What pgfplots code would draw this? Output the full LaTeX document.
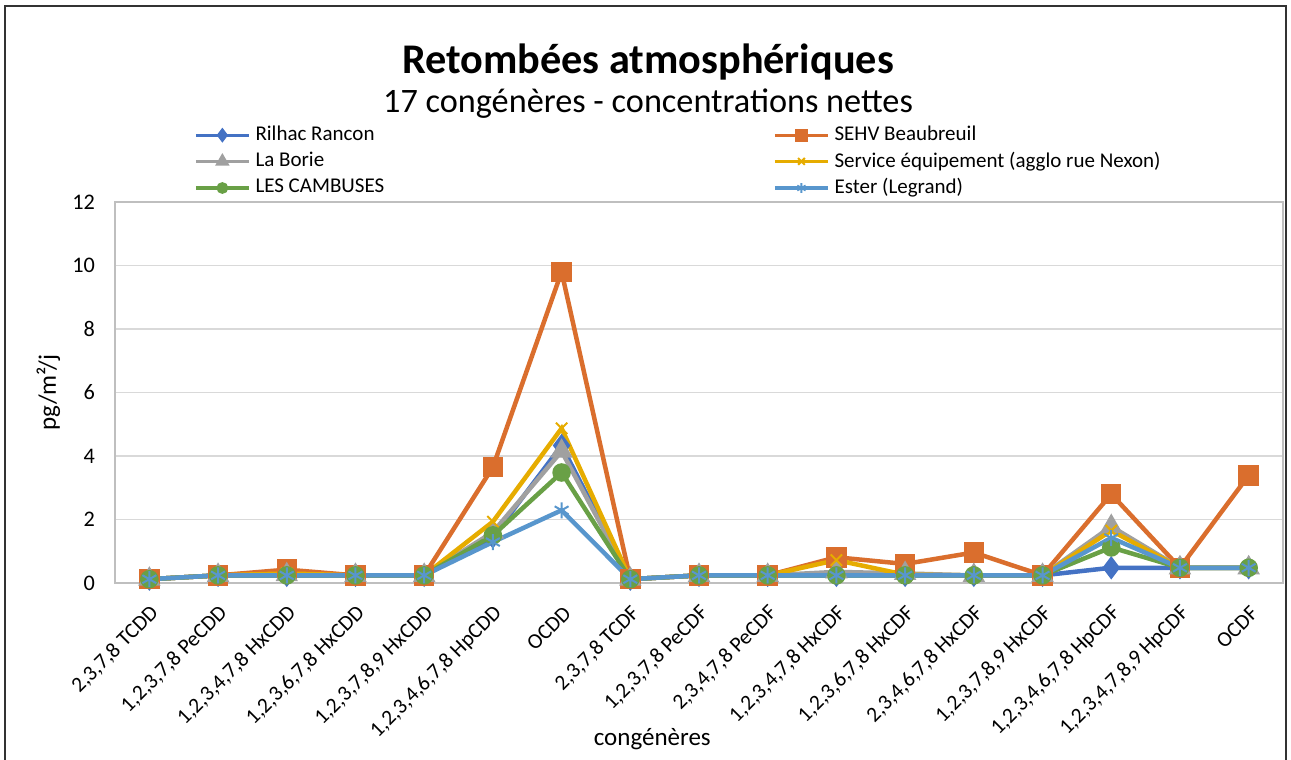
\documentclass[border=0pt]{standalone}
\usepackage{fontspec}
\setmainfont{Carlito}
\usepackage{pgfplots}
\pgfplotsset{compat=1.18}
\usepackage{pgfplotstable}

\definecolor{rilhac}{RGB}{68,114,196}
\definecolor{sehv}{RGB}{218,110,45}
\definecolor{borie}{RGB}{160,160,160}
\definecolor{service}{RGB}{230,172,0}
\definecolor{cambus}{RGB}{105,160,70}
\definecolor{ester}{RGB}{88,150,205}
\definecolor{gridgray}{RGB}{217,217,217}
\definecolor{boxgray}{RGB}{191,191,191}

% x = congener index, one column per station
\pgfplotstableread{
x rilhac sehv borie service cambus ester
0  0.12 0.12 0.12 0.12 0.12 0.12
1  0.24 0.24 0.24 0.24 0.24 0.24
2  0.24 0.42 0.26 0.30 0.24 0.24
3  0.24 0.24 0.24 0.24 0.24 0.24
4  0.24 0.24 0.24 0.24 0.24 0.24
5  1.45 3.65 1.60 1.93 1.50 1.29
6  4.33 9.80 4.15 4.87 3.48 2.29
7  0.12 0.12 0.12 0.12 0.12 0.12
8  0.24 0.24 0.24 0.24 0.24 0.24
9  0.24 0.24 0.24 0.24 0.24 0.24
10 0.24 0.81 0.35 0.72 0.24 0.24
11 0.24 0.60 0.30 0.26 0.24 0.24
12 0.24 0.96 0.24 0.24 0.24 0.24
13 0.24 0.24 0.24 0.24 0.24 0.24
14 0.48 2.80 1.78 1.65 1.12 1.42
15 0.48 0.48 0.48 0.48 0.48 0.48
16 0.48 3.39 0.48 0.48 0.48 0.48
}\congeners

\begin{document}
\begin{tikzpicture}
\useasboundingbox (-46pt,-70.8pt) rectangle (470.4pt,233.2pt);
\begin{axis}[
    at={(0pt,0pt)}, anchor=south west,
    scale only axis, width=467.2pt, height=152.4pt,
    xmin=-0.5, xmax=16.5, ymin=0, ymax=12,
    ytick={0,2,...,12},
    xtick={0,...,16},
    xticklabels={{2,3,7,8 TCDD},{1,2,3,7,8 PeCDD},{1,2,3,4,7,8 HxCDD},{1,2,3,6,7,8 HxCDD},{1,2,3,7,8,9 HxCDD},{1,2,3,4,6,7,8 HpCDD},{OCDD},{2,3,7,8 TCDF},{1,2,3,7,8 PeCDF},{2,3,4,7,8 PeCDF},{1,2,3,4,7,8 HxCDF},{1,2,3,6,7,8 HxCDF},{2,3,4,6,7,8 HxCDF},{1,2,3,7,8,9 HxCDF},{1,2,3,4,6,7,8 HpCDF},{1,2,3,4,7,8,9 HpCDF},{OCDF}},
    /pgf/number format/assume math mode=true,
    tick style={draw=none},
    ymajorgrids, grid style={gridgray, line width=0.6pt},
    axis line style={boxgray, line width=0.8pt},
    yticklabel style={font=\fontsize{8.9}{10}\selectfont, xshift=-4.5pt},
    xticklabel style={font=\fontsize{8.6}{10}\selectfont, xshift=2.4pt, yshift=-10.6pt,
        rotate=45, anchor=east, inner sep=0pt},
    xlabel={congénères}, ylabel={pg/m²/j},
    label style={font=\fontsize{9.5}{11}\selectfont},
    every axis x label/.style={at={(axis description cs:0.46,-0.41)}, anchor=center},
    every axis y label/.style={at={(axis description cs:-0.057,0.5)}, rotate=90, anchor=center},
    legend columns=2,
    legend cell align=left,
    legend style={draw=none, fill=none, font=\fontsize{8.4}{10}\selectfont,
        at={(axis description cs:0.061,1.227)}, anchor=north west,
        row sep=-1pt,
        /tikz/column 2/.style={column sep=153.6pt}},
    legend image code/.code={\draw[mark repeat=2, mark phase=2, #1, line width=1.3pt]
        plot coordinates {(0pt,0pt) (10.6pt,0pt) (21.2pt,0pt)};},
    legend image post style={/tikz/every mark/.append style={scale=0.6}},
    every axis plot/.append style={line width=1.8pt},
]
\addplot[rilhac, mark=diamond*, mark size=3.2pt]
    table[x=x, y=rilhac] {\congeners};
\addlegendentry{Rilhac Rancon}
\addplot[sehv, mark=square*, mark size=3.2pt]
    table[x=x, y=sehv] {\congeners};
\addlegendentry{SEHV Beaubreuil}
\addplot[borie, mark=triangle*, mark size=3.4pt]
    table[x=x, y=borie] {\congeners};
\addlegendentry{La Borie}
\addplot[service, mark=x, mark size=3.2pt, mark options={line width=0.8pt}]
    table[x=x, y=service] {\congeners};
\addlegendentry{Service équipement (agglo rue Nexon)}
\addplot[cambus, mark=*, mark size=2.8pt]
    table[x=x, y=cambus] {\congeners};
\addlegendentry{LES CAMBUSES}
\addplot[ester, mark=asterisk, mark size=3.2pt, mark options={line width=0.8pt}]
    table[x=x, y=ester] {\congeners};
\addlegendentry{Ester (Legrand)}
\end{axis}
% chart frame (bottom edge is cut off in the reference)
\draw[black!80, line width=0.7pt] (-44pt,-80pt) -- (-44pt,230.8pt) -- (468.4pt,230.8pt) -- (468.4pt,-80pt);
\node[font=\fontsize{16.9}{20}\selectfont\bfseries] at (213.2pt,208.4pt) {Retombées atmosphériques};
\node[font=\fontsize{13.7}{16}\selectfont] at (213.2pt,191.6pt) {17 congénères - concentrations nettes};
\end{tikzpicture}
\end{document}
